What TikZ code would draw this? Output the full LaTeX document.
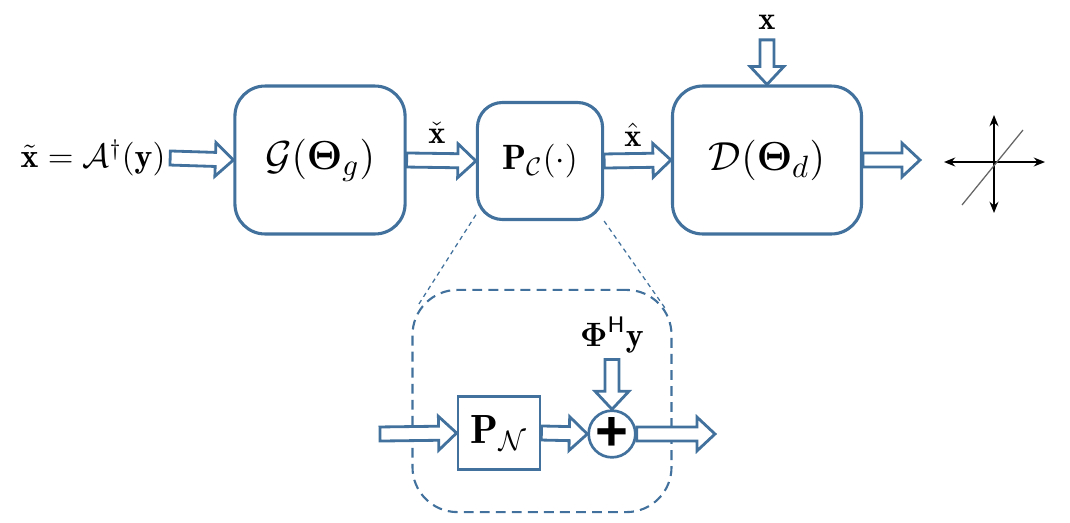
\documentclass[tikz,border=0pt]{standalone}
\usepackage{amsmath}
\usepackage{amssymb}
\usepackage{bm}
\usepackage{fontspec}
\newfontfamily\plusfont{Liberation Sans}
\usetikzlibrary{calc,arrows.meta}
\definecolor{boxblue}{RGB}{65,113,156}

\begin{document}
\begin{tikzpicture}
        % 坐标单位: 1 = 参考图中的 1 像素, y 轴向下
        [x=0.0125cm,y=-0.0125cm,
        BigBox/.style={rectangle,rounded corners=10.7pt,draw=boxblue,line width=1.1pt,fill=white,font=\fontsize{15.5}{18}\selectfont},
        MidBox/.style={rectangle,rounded corners=8.9pt,draw=boxblue,line width=1.1pt,fill=white,font=\fontsize{12.5}{14}\selectfont},
        SqBox/.style={rectangle,draw=boxblue,line width=0.95pt,fill=white,font=\fontsize{14.5}{17}\selectfont},
        SumNode/.style={circle,draw=boxblue,line width=0.95pt,fill=white,inner sep=-2pt,minimum size=16.6pt,font=\fontsize{20}{20}\selectfont\plusfont\bfseries},
        Lbl/.style={font=\fontsize{11.5}{13}\selectfont,inner sep=1pt},
        % 空心箭头: 由 \tikztostart 到 \tikztotarget 的多边形
        Hollow/.style={draw=boxblue,line width=1pt,fill=white,line join=miter,
          to path={($(\tikztotarget)!6.4pt!(\tikztostart)$) coordinate (ah)
            ($(\tikztostart)!2.5pt!90:(\tikztotarget)$) -- ($(ah)!2.5pt!90:(\tikztotarget)$)
            -- ($(ah)!6pt!90:(\tikztotarget)$) -- (\tikztotarget)
            -- ($(ah)!6pt!-90:(\tikztotarget)$) -- ($(ah)!2.5pt!-90:(\tikztotarget)$)
            -- ($(\tikztostart)!2.5pt!-90:(\tikztotarget)$) -- cycle}},
        AxArrow/.style={{Stealth[length=4pt,width=3.2pt]}-{Stealth[length=4pt,width=3.2pt]},line width=0.5pt}]

        % 背景 (固定图片大小)
        \useasboundingbox (0,0) rectangle (1070,522);

        % 上面一行的方框
        \node[BigBox,minimum width=60.5pt,minimum height=52.6pt] (gen) at (320,160) {$\mathcal{G}(\boldsymbol{\Theta}_g)$};
        \node[MidBox,minimum width=44.5pt,minimum height=41.6pt] (proj) at (540,161) {$\mathbf{P}_{\mathcal{C}}(\cdot)$};
        \node[BigBox,minimum width=67.2pt,minimum height=52.6pt] (dis) at (767,160) {$\mathcal{D}(\boldsymbol{\Theta}_d)$};

        % 文字
        \node[font=\fontsize{12}{14}\selectfont,inner sep=1.5pt] (xin) at (93,158) {$\tilde{\mathbf{x}}=\mathcal{A}^{\dagger}(\mathbf{y})$};
        \node[Lbl] (xchk) at (437,133) {$\check{\mathbf{x}}$};
        \node[Lbl] (xhat) at (633,135) {$\hat{\mathbf{x}}$};
        \node[Lbl,inner sep=3.6pt] (xtop) at (767,22) {$\mathbf{x}$};
        \coordinate (out) at (920,160);

        % 上面一行的空心箭头
        \draw[Hollow] (xin.east) to (gen.west);
        \draw[Hollow] (gen.east) to (proj.west);
        \draw[Hollow] (proj.east) to (dis.west);
        \draw[Hollow] (xtop.south) to (dis.north);
        \draw[Hollow] (dis.east) to (out);

        % 坐标轴
        \coordinate (axW) at (944,162);
        \coordinate (axE) at (1045,162);
        \coordinate (axN) at (994,115);
        \coordinate (axS) at (994,213);
        \coordinate (dgA) at (962,205);
        \coordinate (dgB) at (1023,130);
        \draw[AxArrow] (axW) -- (axE);
        \draw[AxArrow] (axN) -- (axS);
        \draw[gray!80!black,line width=0.45pt] (dgA) -- (dgB);

        % 放大部分: 虚线框
        \node[rectangle,rounded corners=16pt,draw=boxblue,line width=0.75pt,dash pattern=on 3.5pt off 2.2pt,minimum width=92.1pt,minimum height=79pt] (zoom) at (542,401) {};
        \coordinate (zl) at (417,307);
        \coordinate (zr) at (665,308);
        \draw[boxblue,line width=0.45pt,dash pattern=on 1.6pt off 1.4pt] (proj.220) -- (zl);
        \draw[boxblue,line width=0.45pt,dash pattern=on 1.6pt off 1.4pt] (proj.south east) -- (zr);

        % 放大部分的结点
        \node[SqBox,minimum width=29.2pt,minimum height=26pt] (pn) at (499,433) {$\mathbf{P}_{\mathcal{N}}$};
        \node[SumNode] (sum) at (612,434) {+};
        \node[Lbl,font=\fontsize{12}{14}\selectfont,inner sep=2pt] (phi) at (612,335) {$\boldsymbol{\Phi}^{\mathsf{H}}\mathbf{y}$};
        \coordinate (pin) at (380,434);
        \coordinate (pout) at (715,434);

        % 放大部分的箭头
        \draw[Hollow] (pin) to (pn.west);
        \draw[Hollow] (pn.east) to (sum.west);
        \draw[Hollow] (phi.south) to (sum.north);
        \draw[Hollow] (sum.east) to (pout);
\end{tikzpicture}
\end{document}
